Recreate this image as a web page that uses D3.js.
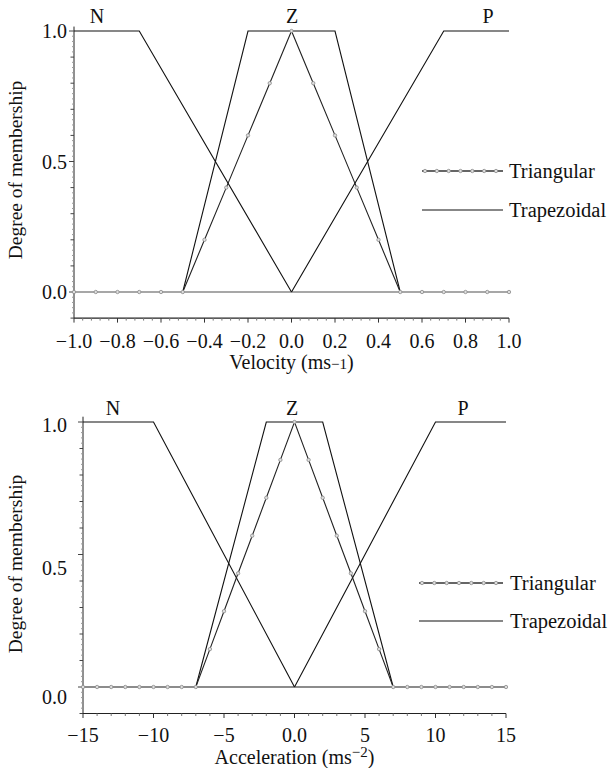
<!DOCTYPE html>
<html>
<head>
<meta charset="utf-8">
<script src="https://cdn.jsdelivr.net/npm/d3@7"></script>
<style>
  body { margin: 0; background: #fff; }
  svg { display: block; }
  text { font-family: "Liberation Serif", "Times New Roman", serif; fill: #111; }
</style>
</head>
<body>
<svg id="chart" width="612" height="768"></svg>
<script>
// ---- Velocity membership functions ----
const velocityX   = [-1.0, -0.9, -0.8, -0.7, -0.6, -0.5, -0.4, -0.3, -0.2, -0.1, 0.0,
                     0.1, 0.2, 0.3, 0.4, 0.5, 0.6, 0.7, 0.8, 0.9, 1.0];
const velocityTri = [0, 0, 0, 0, 0, 0, 0.2, 0.4, 0.6, 0.8, 1.0,
                     0.8, 0.6, 0.4, 0.2, 0, 0, 0, 0, 0, 0];
const velocityTrapNX = [-1.0, -0.7, 0.0];
const velocityTrapNY = [1, 1, 0];
const velocityTrapZX = [-0.5, -0.2, 0.2, 0.5];
const velocityTrapZY = [0, 1, 1, 0];
const velocityTrapPX = [0.0, 0.7, 1.0];
const velocityTrapPY = [0, 1, 1];
const velocityTicks  = [-1.0, -0.8, -0.6, -0.4, -0.2, 0.0, 0.2, 0.4, 0.6, 0.8, 1.0];
const velocityTickLabels = ["\u22121.0", "\u22120.8", "\u22120.6", "\u22120.4", "\u22120.2",
                            "0.0", "0.2", "0.4", "0.6", "0.8", "1.0"];

// ---- Acceleration membership functions ----
const accelX   = [-15, -14, -13, -12, -11, -10, -9, -8, -7, -6, -5, -4, -3, -2, -1, 0,
                  1, 2, 3, 4, 5, 6, 7, 8, 9, 10, 11, 12, 13, 14, 15];
const accelTri = [0, 0, 0, 0, 0, 0, 0, 0, 0, 0.143, 0.286, 0.429, 0.571, 0.714, 0.857, 1.0,
                  0.857, 0.714, 0.571, 0.429, 0.286, 0.143, 0, 0, 0, 0, 0, 0, 0, 0, 0];
const accelTrapNX = [-15, -10, 0];
const accelTrapNY = [1, 1, 0];
const accelTrapZX = [-7, -2, 2, 7];
const accelTrapZY = [0, 1, 1, 0];
const accelTrapPX = [0, 10, 15];
const accelTrapPY = [0, 1, 1];
const accelTicks  = [-15, -10, -5, 0, 5, 10, 15];
const accelTickLabels = ["\u221215", "\u221210", "\u22125", "0.0", "5", "10", "15"];

const membershipTicks  = [0, 0.5, 1.0];
const membershipLabels = ["0.0", "0.5", "1.0"];
const setNames = ["N", "Z", "P"];
const legendNames = ["Triangular", "Trapezoidal"];

const FONT = 20;

const svg = d3.select("#chart");
svg.append("rect").attr("width", 612).attr("height", 768).attr("fill", "#fff");

const panels = [
  {
    xs: velocityX, tri: velocityTri,
    traps: [[velocityTrapNX, velocityTrapNY], [velocityTrapZX, velocityTrapZY], [velocityTrapPX, velocityTrapPY]],
    ticks: velocityTicks, tickLabels: velocityTickLabels,
    xDomain: [-1, 1], xRange: [74, 509],
    yRange: [292, 31], yTop: 1.017,
    minorStep: 0.04, majorEvery: 5,
    labelY: d3.scaleLinear().domain([0, 0.5, 1]).range([292, 161.5, 31]),
    labelRight: 67,
    setLabelX: [97, 292, 488], setLabelBase: 23,
    tickLabelBase: 348,
    title: ["Velocity (ms", "\u22121", ")"], supShift: 0, titleBase: 369,
    yTitleCenter: 170,
    legendX: [422, 503], legendY: [171, 210], legendTextX: 509,
    zeroColor: "#8a8a8a"
  },
  {
    xs: accelX, tri: accelTri,
    traps: [[accelTrapNX, accelTrapNY], [accelTrapZX, accelTrapZY], [accelTrapPX, accelTrapPY]],
    ticks: accelTicks, tickLabels: accelTickLabels,
    xDomain: [-15, 15], xRange: [83, 506],
    yRange: [687, 422], yTop: 1.02,
    minorStep: 1, majorEvery: 5,
    labelY: d3.scaleLinear().domain([0, 0.5, 1]).range([697, 568, 425]),
    labelRight: 67,
    setLabelX: [113, 292, 463], setLabelBase: 415,
    tickLabelBase: 742,
    title: ["Acceleration (ms", "\u22122", ")"], supShift: -7, titleBase: 764,
    yTitleCenter: 564,
    legendX: [419, 503], legendY: [583, 621], legendTextX: 510,
    zeroColor: "#666"
  }
];

function drawPanel(p) {
  const g = svg.append("g");
  const x = d3.scaleLinear().domain(p.xDomain).range(p.xRange);
  const y = d3.scaleLinear().domain([0, 1]).range(p.yRange);
  const yBottom = y(-0.1), yTopPx = y(p.yTop);
  const x0 = x(p.xDomain[0]), x1 = x(p.xDomain[1]);

  // y axis: line, fine ticks every 0.02, tenths a bit longer, labelled ones longest
  g.append("line").attr("x1", x0).attr("x2", x0).attr("y1", yTopPx).attr("y2", yBottom)
    .attr("stroke", "#222").attr("stroke-width", 1);
  d3.range(-5, 51).forEach(i => {
    const v = i * 0.02;
    const len = (i % 25 === 0) ? 5 : (i % 5 === 0 ? 3.5 : 2);
    g.append("line").attr("x1", x0 - len).attr("x2", x0)
      .attr("y1", y(v)).attr("y2", y(v))
      .attr("stroke", i % 5 === 0 ? "#444" : "#999").attr("stroke-width", 1);
  });
  membershipTicks.forEach((v, i) => {
    g.append("text").attr("x", p.labelRight).attr("y", p.labelY(v) + 7)
      .attr("text-anchor", "end").attr("font-size", FONT).text(membershipLabels[i]);
  });

  // x axis along the bottom
  g.append("line").attr("x1", x0).attr("x2", x1).attr("y1", yBottom).attr("y2", yBottom)
    .attr("stroke", "#222").attr("stroke-width", 1.2);
  const nMinor = Math.round((p.xDomain[1] - p.xDomain[0]) / p.minorStep);
  d3.range(0, nMinor + 1).forEach(i => {
    const v = p.xDomain[0] + i * p.minorStep;
    const len = (i % p.majorEvery === 0) ? 4.5 : 2.5;
    g.append("line").attr("x1", x(v)).attr("x2", x(v))
      .attr("y1", yBottom).attr("y2", yBottom + len)
      .attr("stroke", i % p.majorEvery === 0 ? "#333" : "#777").attr("stroke-width", 1);
  });
  p.ticks.forEach((v, i) => {
    g.append("text").attr("x", x(v)).attr("y", p.tickLabelBase)
      .attr("text-anchor", "middle").attr("font-size", FONT).text(p.tickLabels[i]);
  });

  // axis titles
  const t = g.append("text").attr("x", (x0 + x1) / 2).attr("y", p.titleBase)
    .attr("text-anchor", "middle").attr("font-size", FONT);
  t.append("tspan").text(p.title[0]);
  t.append("tspan").attr("font-size", 15).attr("dy", p.supShift).text(p.title[1]);
  t.append("tspan").attr("dy", -p.supShift).text(p.title[2]);

  g.append("text")
    .attr("transform", `translate(22,${p.yTitleCenter}) rotate(-90)`)
    .attr("text-anchor", "middle").attr("font-size", 19.5).text("Degree of membership");

  // zero baseline shared by the membership curves
  g.append("line").attr("x1", x0).attr("x2", x1).attr("y1", y(0)).attr("y2", y(0))
    .attr("stroke", p.zeroColor).attr("stroke-width", 1.5);

  // trapezoidal sets
  const line = d3.line().x(d => x(d[0])).y(d => y(d[1]));
  p.traps.forEach(([xs, ys]) => {
    g.append("path").attr("d", line(xs.map((v, i) => [v, ys[i]])))
      .attr("fill", "none").attr("stroke", "#111").attr("stroke-width", 1.1);
  });

  // triangular set: the raised part as a dark line, markers at every sample
  const triPts = p.xs.map((v, i) => [v, p.tri[i]]);
  const raised = triPts.filter((d, i) =>
    d[1] > 0 || (i > 0 && p.tri[i - 1] > 0) || (i < p.tri.length - 1 && p.tri[i + 1] > 0));
  g.append("path").attr("d", line(raised))
    .attr("fill", "none").attr("stroke", "#222").attr("stroke-width", 1.1);
  g.selectAll(null).data(triPts).enter().append("circle")
    .attr("cx", d => x(d[0])).attr("cy", d => y(d[1])).attr("r", 1.7)
    .attr("fill", "#ddd").attr("stroke", "#8a8a8a").attr("stroke-width", 0.8);

  // set names above the plateaus
  setNames.forEach((s, i) => {
    g.append("text").attr("x", p.setLabelX[i]).attr("y", p.setLabelBase)
      .attr("text-anchor", "middle").attr("font-size", FONT).text(s);
  });

  // legend
  const [lx0, lx1] = p.legendX;
  g.append("line").attr("x1", lx0).attr("x2", lx1).attr("y1", p.legendY[0]).attr("y2", p.legendY[0])
    .attr("stroke", "#333").attr("stroke-width", 1.4);
  d3.range(7).forEach(i => {
    g.append("circle").attr("cx", lx0 + 3 + i * (lx1 - lx0 - 10) / 6).attr("cy", p.legendY[0])
      .attr("r", 1.7).attr("fill", "#ddd").attr("stroke", "#8a8a8a").attr("stroke-width", 0.8);
  });
  g.append("line").attr("x1", lx0).attr("x2", lx1).attr("y1", p.legendY[1]).attr("y2", p.legendY[1])
    .attr("stroke", "#111").attr("stroke-width", 1.1);
  legendNames.forEach((name, i) => {
    g.append("text").attr("x", p.legendTextX).attr("y", p.legendY[i] + 7)
      .attr("font-size", 20.5).text(name);
  });
}

panels.forEach(drawPanel);
</script>
</body>
</html>
